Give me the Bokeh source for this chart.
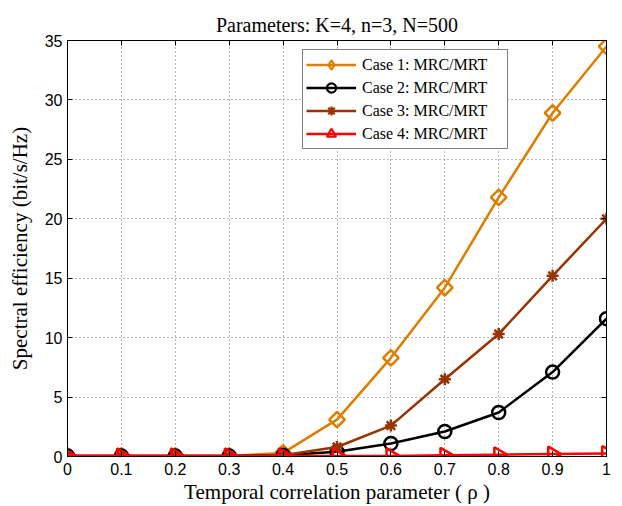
import numpy as np
from bokeh.plotting import figure
from bokeh.models import (LinearAxis, Range1d, FixedTicker, Legend, LegendItem)
from bokeh.embed import file_html
from bokeh.resources import INLINE

rho = [0.0, 0.1, 0.2, 0.3, 0.4, 0.5, 0.6, 0.7, 0.8, 0.9, 1.0]
case1 = [0.05, 0.05, 0.05, 0.05, 0.3, 3.1, 8.3, 14.2, 21.8, 28.9, 34.5]
case2 = [0.05, 0.05, 0.05, 0.05, 0.1, 0.4, 1.1, 2.1, 3.7, 7.1, 11.6]
case3 = [0.05, 0.05, 0.05, 0.05, 0.1, 0.8, 2.6, 6.5, 10.3, 15.2, 20.0]
case4 = [0.05, 0.05, 0.05, 0.05, 0.05, 0.05, 0.05, 0.1, 0.15, 0.2, 0.25]
labels = ["Case 1: MRC/MRT", "Case 2: MRC/MRT", "Case 3: MRC/MRT", "Case 4: MRC/MRT"]
x_ticks = [0, 0.1, 0.2, 0.3, 0.4, 0.5, 0.6, 0.7, 0.8, 0.9, 1]
x_tick_labels = ["0", "0.1", "0.2", "0.3", "0.4", "0.5", "0.6", "0.7", "0.8", "0.9", "1"]
y_ticks = [0, 5, 10, 15, 20, 25, 30, 35]

SERIF = "Liberation Serif"
SANS = "Liberation Sans"

p = figure(width=622, height=506, output_backend="svg", toolbar_location=None,
           x_range=Range1d(0, 1), y_range=Range1d(0, 35),
           min_border_left=67, min_border_right=16, min_border_top=40, min_border_bottom=50,
           title="Parameters: K=4, n=3, N=500")
p.title.text_font = SERIF
p.title.text_font_size = "20px"
p.title.text_font_style = "normal"
p.title.align = "center"
p.title.text_color = "black"

p.outline_line_color = "black"
p.outline_line_width = 1
p.background_fill_color = "white"
p.border_fill_color = "white"

for ax in (p.xaxis[0], p.yaxis[0]):
    ax.major_label_text_font = SANS
    ax.major_label_text_font_size = "16px"
    ax.major_label_text_color = "black"
    ax.axis_label_text_font = SERIF
    ax.axis_label_text_font_size = "21px"
    ax.axis_label_text_font_style = "normal"
    ax.axis_label_text_color = "black"
    ax.major_tick_in = 5
    ax.major_tick_out = 0
    ax.minor_tick_in = 0
    ax.minor_tick_out = 0
    ax.axis_line_color = "black"
    ax.major_tick_line_color = "black"

p.xaxis[0].ticker = FixedTicker(ticks=x_ticks)
p.xaxis[0].major_label_overrides = {t: l for t, l in zip(x_ticks, x_tick_labels)}
p.xaxis[0].axis_label = "Temporal correlation parameter ( \u03c1 )"
p.xaxis[0].major_label_standoff = 6
p.xaxis[0].axis_label_standoff = 2
p.yaxis[0].ticker = FixedTicker(ticks=y_ticks)
p.yaxis[0].axis_label = "Spectral efficiency (bit/s/Hz)"
p.yaxis[0].major_label_standoff = 5
p.yaxis[0].axis_label_standoff = 10

right = LinearAxis(ticker=FixedTicker(ticks=y_ticks), major_label_text_font_size="0px",
                   major_tick_in=5, major_tick_out=0, minor_tick_in=0, minor_tick_out=0,
                   major_label_standoff=0)
top = LinearAxis(ticker=FixedTicker(ticks=x_ticks), major_label_text_font_size="0px",
                 major_tick_in=5, major_tick_out=0, minor_tick_in=0, minor_tick_out=0,
                 major_label_standoff=0)
p.add_layout(right, "right")
p.add_layout(top, "above")

p.xgrid.ticker = FixedTicker(ticks=x_ticks)
p.ygrid.ticker = FixedTicker(ticks=y_ticks)
for g in (p.xgrid[0], p.ygrid[0]):
    g.grid_line_color = "#707070"
    g.grid_line_dash = "1 3"
    g.grid_line_width = 1

c_orange = "#DE7D00"
c_black = "#000000"
c_brown = "#993300"
c_red = "#FF0000"
LW = 2.5
NAN = [np.nan]

items = []
l1 = p.line(rho, case1, line_color=c_orange, line_width=LW)
p.scatter(rho, case1, marker="square", angle=np.pi / 4, size=11,
          line_color=c_orange, line_width=LW, fill_alpha=0)
k1 = p.scatter(NAN, NAN, marker="diamond", line_color=c_orange, line_width=2.2, fill_alpha=0)
items.append(LegendItem(label=labels[0], renderers=[l1, k1]))

l2 = p.line(rho, case2, line_color=c_black, line_width=LW)
p.scatter(rho, case2, marker="circle", size=13,
          line_color=c_black, line_width=LW, fill_alpha=0)
k2 = p.scatter(NAN, NAN, marker="circle", line_color=c_black, line_width=2.2, fill_alpha=0)
items.append(LegendItem(label=labels[1], renderers=[l2, k2]))

l3 = p.line(rho, case3, line_color=c_brown, line_width=LW)
p.scatter(rho, case3, marker="asterisk", size=12,
          line_color=c_brown, line_width=LW)
k3 = p.scatter(NAN, NAN, marker="asterisk", line_color=c_brown, line_width=2.2)
items.append(LegendItem(label=labels[2], renderers=[l3, k3]))

l4 = p.line(rho, case4, line_color=c_red, line_width=LW)
p.scatter(rho, case4, marker="triangle", angle=-np.pi / 2, size=15,
          line_color=c_red, line_width=LW, fill_alpha=0)
k4 = p.scatter(NAN, NAN, marker="triangle", line_color=c_red, line_width=2.2, fill_alpha=0)
items.append(LegendItem(label=labels[3], renderers=[l4, k4]))

legend = Legend(items=items, location=(235, 307))
legend.label_text_font = SERIF
legend.label_text_font_size = "16px"
legend.label_text_color = "black"
legend.glyph_width = 50
legend.glyph_height = 23
legend.label_height = 23
legend.label_width = 142
legend.label_standoff = 6
legend.spacing = 0
legend.padding = 3
legend.margin = 0
legend.border_line_color = "black"
legend.border_line_width = 1
legend.background_fill_alpha = 1
p.add_layout(legend, "center")

open("out.html", "w").write(file_html(p, INLINE))
